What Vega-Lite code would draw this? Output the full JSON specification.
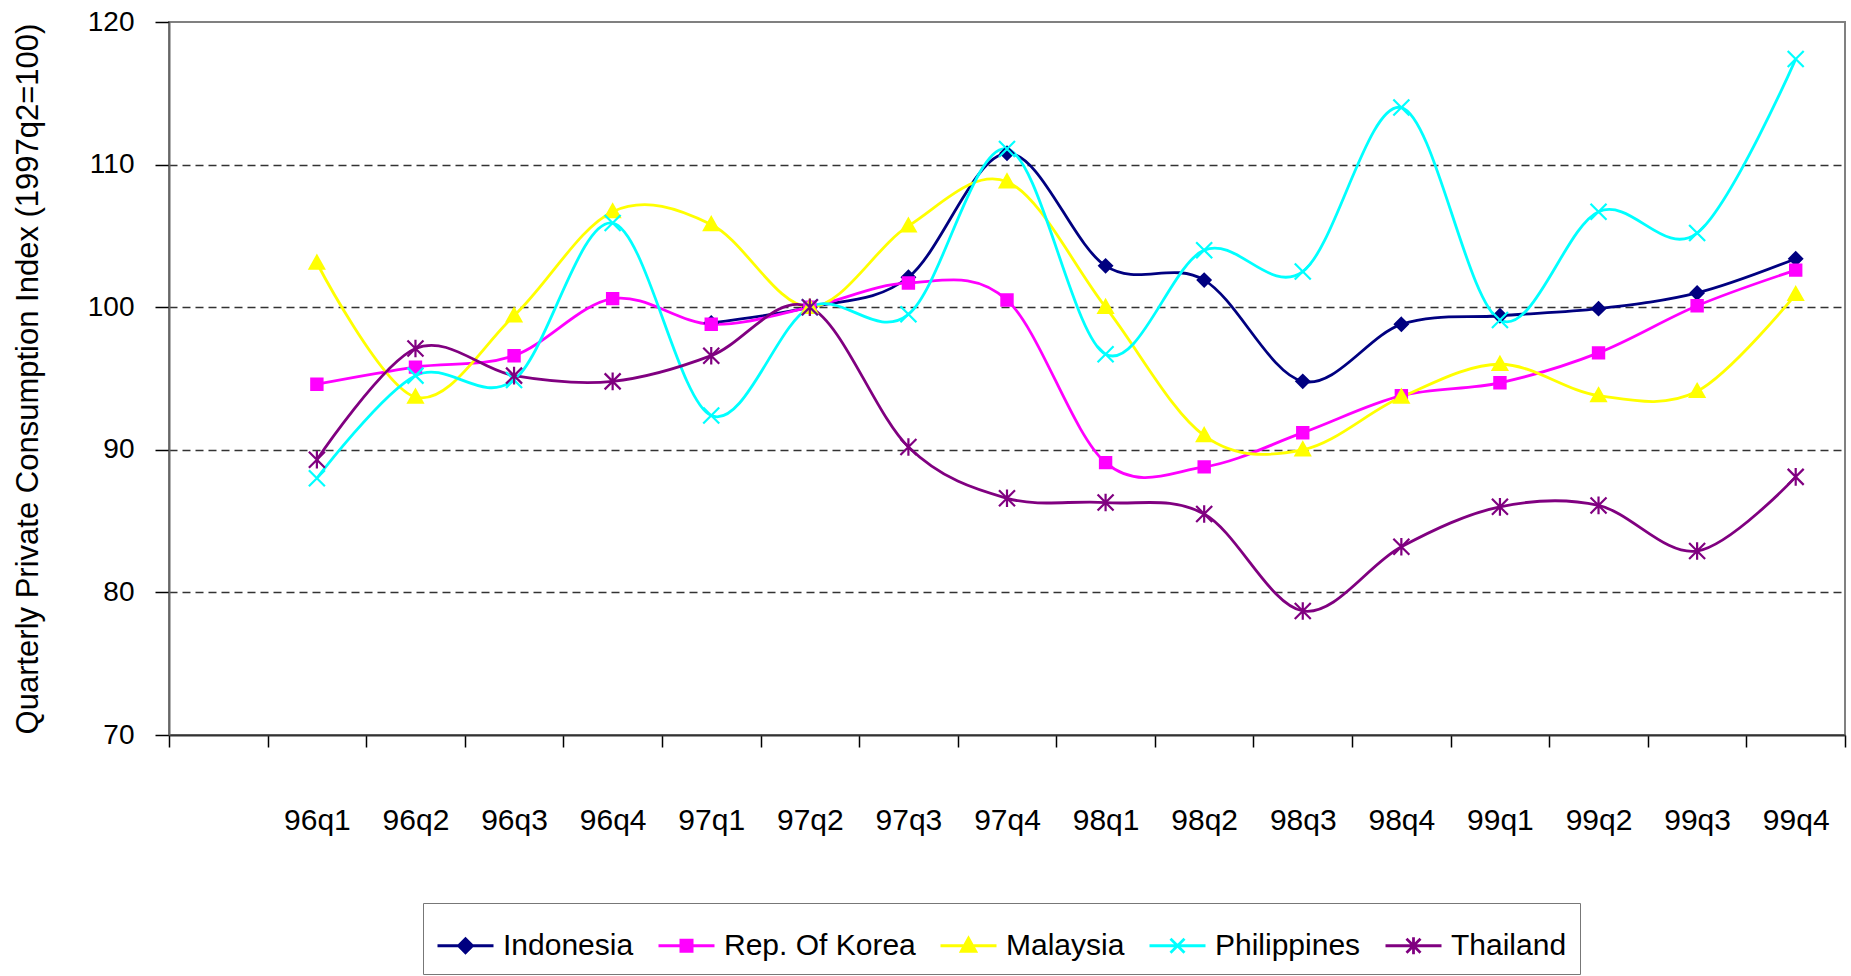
{
  "$schema": "https://vega.github.io/schema/vega-lite/v6.json",
  "width": 1676,
  "height": 713,
  "autosize": {"type": "none"},
  "padding": {"left": 169, "top": 22, "right": 6, "bottom": 241},
  "background": "white",
  "config": {
    "view": {"stroke": "#808080", "strokeWidth": 2},
    "font": "Liberation Sans"
  },
  "data": {
    "values": [
      {"q": "97q1", "country": "Indonesia", "v": 98.9},
      {"q": "97q2", "country": "Indonesia", "v": 100.0},
      {"q": "97q3", "country": "Indonesia", "v": 102.1},
      {"q": "97q4", "country": "Indonesia", "v": 110.8},
      {"q": "98q1", "country": "Indonesia", "v": 102.9},
      {"q": "98q2", "country": "Indonesia", "v": 101.9},
      {"q": "98q3", "country": "Indonesia", "v": 94.8},
      {"q": "98q4", "country": "Indonesia", "v": 98.8},
      {"q": "99q1", "country": "Indonesia", "v": 99.4},
      {"q": "99q2", "country": "Indonesia", "v": 99.9},
      {"q": "99q3", "country": "Indonesia", "v": 101.0},
      {"q": "99q4", "country": "Indonesia", "v": 103.4},

      {"q": "96q1", "country": "Rep. Of Korea", "v": 94.6},
      {"q": "96q2", "country": "Rep. Of Korea", "v": 95.8},
      {"q": "96q3", "country": "Rep. Of Korea", "v": 96.6},
      {"q": "96q4", "country": "Rep. Of Korea", "v": 100.6},
      {"q": "97q1", "country": "Rep. Of Korea", "v": 98.8},
      {"q": "97q2", "country": "Rep. Of Korea", "v": 100.0},
      {"q": "97q3", "country": "Rep. Of Korea", "v": 101.7},
      {"q": "97q4", "country": "Rep. Of Korea", "v": 100.5},
      {"q": "98q1", "country": "Rep. Of Korea", "v": 89.1},
      {"q": "98q2", "country": "Rep. Of Korea", "v": 88.8},
      {"q": "98q3", "country": "Rep. Of Korea", "v": 91.2},
      {"q": "98q4", "country": "Rep. Of Korea", "v": 93.8},
      {"q": "99q1", "country": "Rep. Of Korea", "v": 94.7},
      {"q": "99q2", "country": "Rep. Of Korea", "v": 96.8},
      {"q": "99q3", "country": "Rep. Of Korea", "v": 100.1},
      {"q": "99q4", "country": "Rep. Of Korea", "v": 102.6},

      {"q": "96q1", "country": "Malaysia", "v": 103.1},
      {"q": "96q2", "country": "Malaysia", "v": 93.7},
      {"q": "96q3", "country": "Malaysia", "v": 99.4},
      {"q": "96q4", "country": "Malaysia", "v": 106.7},
      {"q": "97q1", "country": "Malaysia", "v": 105.8},
      {"q": "97q2", "country": "Malaysia", "v": 100.0},
      {"q": "97q3", "country": "Malaysia", "v": 105.7},
      {"q": "97q4", "country": "Malaysia", "v": 108.8},
      {"q": "98q1", "country": "Malaysia", "v": 100.0},
      {"q": "98q2", "country": "Malaysia", "v": 91.0},
      {"q": "98q3", "country": "Malaysia", "v": 90.0},
      {"q": "98q4", "country": "Malaysia", "v": 93.7},
      {"q": "99q1", "country": "Malaysia", "v": 96.0},
      {"q": "99q2", "country": "Malaysia", "v": 93.8},
      {"q": "99q3", "country": "Malaysia", "v": 94.1},
      {"q": "99q4", "country": "Malaysia", "v": 100.9},

      {"q": "96q1", "country": "Philippines", "v": 88.0},
      {"q": "96q2", "country": "Philippines", "v": 95.2},
      {"q": "96q3", "country": "Philippines", "v": 94.9},
      {"q": "96q4", "country": "Philippines", "v": 105.9},
      {"q": "97q1", "country": "Philippines", "v": 92.4},
      {"q": "97q2", "country": "Philippines", "v": 100.0},
      {"q": "97q3", "country": "Philippines", "v": 99.5},
      {"q": "97q4", "country": "Philippines", "v": 111.1},
      {"q": "98q1", "country": "Philippines", "v": 96.7},
      {"q": "98q2", "country": "Philippines", "v": 104.0},
      {"q": "98q3", "country": "Philippines", "v": 102.5},
      {"q": "98q4", "country": "Philippines", "v": 114.0},
      {"q": "99q1", "country": "Philippines", "v": 99.1},
      {"q": "99q2", "country": "Philippines", "v": 106.7},
      {"q": "99q3", "country": "Philippines", "v": 105.2},
      {"q": "99q4", "country": "Philippines", "v": 117.4},

      {"q": "96q1", "country": "Thailand", "v": 89.3},
      {"q": "96q2", "country": "Thailand", "v": 97.1},
      {"q": "96q3", "country": "Thailand", "v": 95.2},
      {"q": "96q4", "country": "Thailand", "v": 94.8},
      {"q": "97q1", "country": "Thailand", "v": 96.6},
      {"q": "97q2", "country": "Thailand", "v": 100.0},
      {"q": "97q3", "country": "Thailand", "v": 90.2},
      {"q": "97q4", "country": "Thailand", "v": 86.6},
      {"q": "98q1", "country": "Thailand", "v": 86.3},
      {"q": "98q2", "country": "Thailand", "v": 85.5},
      {"q": "98q3", "country": "Thailand", "v": 78.7},
      {"q": "98q4", "country": "Thailand", "v": 83.2},
      {"q": "99q1", "country": "Thailand", "v": 86.0},
      {"q": "99q2", "country": "Thailand", "v": 86.1},
      {"q": "99q3", "country": "Thailand", "v": 82.9},
      {"q": "99q4", "country": "Thailand", "v": 88.1}
    ]
  },
  "encoding": {
    "x": {
      "field": "q",
      "type": "ordinal",
      "scale": {
        "type": "band",
        "domain": [" ", "96q1", "96q2", "96q3", "96q4", "97q1", "97q2", "97q3", "97q4", "98q1", "98q2", "98q3", "98q4", "99q1", "99q2", "99q3", "99q4"],
        "paddingInner": 0,
        "paddingOuter": 0
      },
      "axis": {
        "title": null,
        "labelAngle": 0,
        "labelFont": "Liberation Sans",
        "labelFontSize": 30,
        "labelColor": "#000000",
        "labelPadding": 58,
        "tickBand": "extent",
        "tickSize": 12,
        "tickColor": "#000000",
        "tickWidth": 1.5,
        "domainColor": "#333333",
        "domainWidth": 2,
        "grid": false
      }
    },
    "y": {
      "field": "v",
      "type": "quantitative",
      "scale": {"domain": [70, 120], "nice": false, "zero": false},
      "axis": {
        "title": "Quarterly Private Consumption Index (1997q2=100)",
        "titleFont": "Liberation Sans",
        "titleFontSize": 31,
        "titleFontWeight": "normal",
        "titleColor": "#000000",
        "titlePadding": 43,
        "values": [70, 80, 90, 100, 110, 120],
        "labelFont": "Liberation Sans",
        "labelFontSize": 28,
        "labelColor": "#000000",
        "labelPadding": 21,
        "tickSize": 14,
        "tickColor": "#000000",
        "tickWidth": 1.5,
        "domainColor": "#666666",
        "domainWidth": 2,
        "grid": true,
        "gridColor": "#333333",
        "gridDash": [8, 5],
        "gridWidth": 1.5,
        "gridOpacity": {"condition": {"test": "datum.value == 70 || datum.value == 120", "value": 0}, "value": 1}
      }
    }
  },
  "layer": [
    {
      "mark": {"type": "line", "interpolate": "cardinal", "tension": 0, "strokeWidth": 2.8},
      "encoding": {
        "color": {
          "field": "country",
          "type": "nominal",
          "scale": {
            "domain": ["Indonesia", "Rep. Of Korea", "Malaysia", "Philippines", "Thailand"],
            "range": ["#000080", "#FF00FF", "#FFFF00", "#00FFFF", "#800080"]
          },
          "legend": {
            "title": null,
            "orient": "none",
            "direction": "horizontal",
            "columns": 5,
            "legendX": 254,
            "legendY": 881,
            "padding": 13,
            "strokeColor": "#777777",
            "fillColor": "white",
            "labelFont": "Liberation Sans",
            "labelFontSize": 30,
            "labelColor": "#000000",
            "labelLimit": 0,
            "labelOffset": 8,
            "columnPadding": 18,
            "symbolSize": 3136,
            "symbolStrokeWidth": 2.8,
            "symbolOpacity": 1,
            "symbolType": {"expr": "datum.value === 'Indonesia' ? 'M-1,0L1,0M0,-0.25L0.25,0L0,0.25L-0.25,0Z' : datum.value === 'Rep. Of Korea' ? 'M-1,0L1,0M-0.2,-0.2L0.2,-0.2L0.2,0.2L-0.2,0.2Z' : datum.value === 'Malaysia' ? 'M-1,0L1,0M0,-0.27L0.26,0.2L-0.26,0.2Z' : datum.value === 'Philippines' ? 'M-1,0L1,0M-0.25,-0.25L0.25,0.25M-0.25,0.25L0.25,-0.25' : 'M-1,0L1,0M-0.25,-0.25L0.25,0.25M-0.25,0.25L0.25,-0.25M0,-0.3L0,0.3'"},
            "symbolFillColor": {"expr": "datum.value === 'Indonesia' ? '#000080' : datum.value === 'Rep. Of Korea' ? '#FF00FF' : datum.value === 'Malaysia' ? '#FFFF00' : datum.value === 'Philippines' ? '#00FFFF' : '#800080'"}
          }
        }
      }
    },
    {
      "mark": {"type": "point", "filled": true, "size": 256, "strokeWidth": 2.2, "opacity": 1},
      "encoding": {
        "color": {"field": "country", "type": "nominal", "legend": null},
        "stroke": {
          "field": "country",
          "type": "nominal",
          "scale": {
            "domain": ["Thailand", "Philippines", "Malaysia", "Rep. Of Korea", "Indonesia"],
            "range": ["#800080", "#00FFFF", "#FFFF00", "#FF00FF", "#000080"]
          },
          "legend": null
        },
        "shape": {
          "field": "country",
          "type": "nominal",
          "scale": {
            "domain": ["Thailand", "Philippines", "Malaysia", "Rep. Of Korea", "Indonesia"],
            "range": ["M-1,-1L1,1M-1,1L1,-1M0,-1.1L0,1.1", "M-1,-1L1,1M-1,1L1,-1", "M0,-0.9L0.9,0.7L-0.9,0.7Z", "M-0.7,-0.7L0.7,-0.7L0.7,0.7L-0.7,0.7Z", "M0,-0.8L0.8,0L0,0.8L-0.8,0Z"]
          },
          "legend": null
        }
      }
    }
  ]
}
